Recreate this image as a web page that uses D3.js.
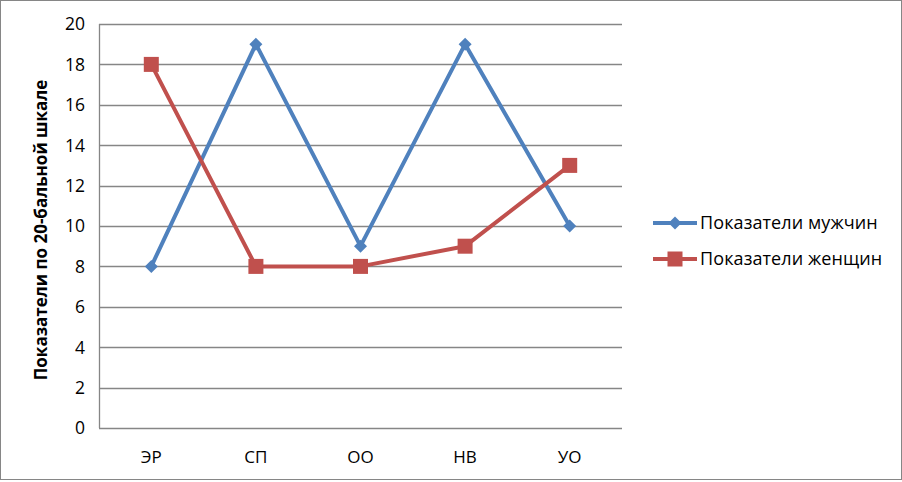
<!DOCTYPE html>
<html>
<head>
<meta charset="utf-8">
<script src="https://cdn.jsdelivr.net/npm/d3@7"></script>
<style>
  body { margin: 0; background: #fff; }
  svg text { font-family: "Open Sans", "Liberation Sans", sans-serif; fill: #000; }
</style>
</head>
<body>
<div id="chart"></div>
<script>
var categories = ["ЭР", "СП", "ОО", "НВ", "УО"];
var menValues = [8, 19, 9, 19, 10];
var womenValues = [18, 8, 8, 9, 13];
var yTicks = [0, 2, 4, 6, 8, 10, 12, 14, 16, 18, 20];
var seriesNames = ["Показатели мужчин", "Показатели женщин"];

var width = 902, height = 482;
var margin = {top: 24, left: 99, right: 280, bottom: 54};

var svg = d3.select("#chart").append("svg")
    .attr("width", width)
    .attr("height", height);

// outer frame
svg.append("rect")
    .attr("x", 0.5).attr("y", 0.5)
    .attr("width", width - 1).attr("height", height - 3)
    .attr("fill", "#fff")
    .attr("stroke", "#868686");

var x = d3.scaleBand()
    .domain(categories)
    .range([margin.left, width - margin.right]);

var y = d3.scaleLinear()
    .domain([0, 20])
    .range([height - margin.bottom, margin.top]);

// gridlines
svg.append("g").selectAll("line")
    .data(yTicks).enter().append("line")
    .attr("x1", margin.left)
    .attr("x2", width - margin.right)
    .attr("y1", function(d) { return Math.round(y(d)) + 0.5; })
    .attr("y2", function(d) { return Math.round(y(d)) + 0.5; })
    .attr("stroke", "#868686")
    .attr("stroke-width", 1.3);

// y axis line
svg.append("line")
    .attr("x1", margin.left + 0.5).attr("x2", margin.left + 0.5)
    .attr("y1", y(20)).attr("y2", y(0))
    .attr("stroke", "#868686")
    .attr("stroke-width", 1.3);

// y tick labels
svg.append("g").selectAll("text")
    .data(yTicks).enter().append("text")
    .attr("x", margin.left - 14)
    .attr("y", function(d) { return y(d); })
    .attr("dy", "0.36em")
    .attr("text-anchor", "end")
    .style("font-size", "17.5px")
    .text(function(d) { return d; });

// x labels
svg.append("g").selectAll("text")
    .data(categories).enter().append("text")
    .attr("x", function(d) { return x(d) + x.bandwidth() / 2; })
    .attr("y", 463)
    .attr("text-anchor", "middle")
    .style("font-size", "17px")
    .text(function(d) { return d; });

// y title
svg.append("text")
    .attr("transform", "translate(47," + ((y(0) + y(20)) / 2 + 4) + ") rotate(-90)")
    .attr("text-anchor", "middle")
    .style("font-size", "17px")
    .style("font-weight", "bold")
    .text("Показатели по 20-бальной шкале");

var series = [
    {name: seriesNames[0], values: menValues, color: "#4F81BD", marker: "diamond"},
    {name: seriesNames[1], values: womenValues, color: "#C0504D", marker: "square"}
];

var line = d3.line()
    .x(function(d, i) { return x(categories[i]) + x.bandwidth() / 2; })
    .y(function(d) { return y(d); });

function drawMarker(g, type, color) {
    if (type === "diamond") {
        g.append("path")
            .attr("d", "M0,-6.5L6.5,0L0,6.5L-6.5,0Z")
            .attr("fill", color);
    } else {
        g.append("rect")
            .attr("x", -7.5).attr("y", -7.5)
            .attr("width", 15).attr("height", 15)
            .attr("fill", color);
    }
}

series.forEach(function(s) {
    svg.append("path")
        .datum(s.values)
        .attr("d", line)
        .attr("fill", "none")
        .attr("stroke", s.color)
        .attr("stroke-width", 4)
        .attr("stroke-linejoin", "round");

    svg.append("g").selectAll("g")
        .data(s.values).enter().append("g")
        .attr("transform", function(d, i) {
            return "translate(" + (x(categories[i]) + x.bandwidth() / 2) + "," + y(d) + ")";
        })
        .each(function() { drawMarker(d3.select(this), s.marker, s.color); });
});

// legend
var legend = svg.append("g").selectAll("g")
    .data(series).enter().append("g")
    .attr("transform", function(d, i) { return "translate(653," + (223 + i * 36) + ")"; });

legend.append("line")
    .attr("x1", 0).attr("x2", 44)
    .attr("stroke", function(d) { return d.color; })
    .attr("stroke-width", 4);

legend.each(function(d) {
    var g = d3.select(this).append("g").attr("transform", "translate(22,0)");
    drawMarker(g, d.marker, d.color);
});

legend.append("text")
    .attr("x", 47)
    .attr("dy", "0.36em")
    .style("font-size", "18px")
    .style("letter-spacing", "0.1px")
    .text(function(d) { return d.name; });
</script>
</body>
</html>
